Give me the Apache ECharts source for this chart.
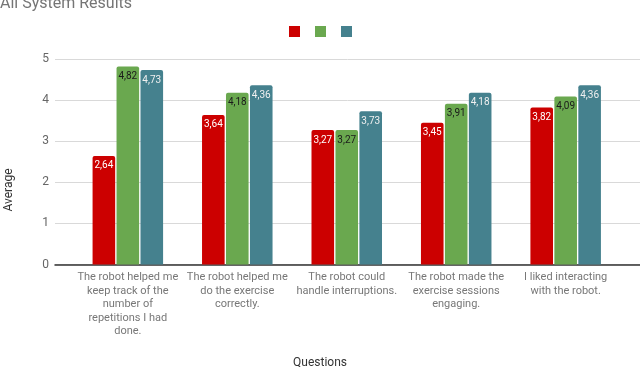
<!DOCTYPE html>
<html>
<head>
<meta charset="utf-8">
<script src="https://cdn.jsdelivr.net/npm/echarts@6/dist/echarts.min.js"></script>
<style>
  html, body { margin: 0; padding: 0; background: #fff; }
  #main { width: 640px; height: 367px; }
</style>
</head>
<body>
<div id="main"></div>
<script>
var questions = [
  'The robot helped me\nkeep track of the\nnumber of\nrepetitions I had\ndone.',
  'The robot helped me\ndo the exercise\ncorrectly.',
  'The robot could\nhandle interruptions.',
  'The robot made the\nexercise sessions\nengaging.',
  'I liked interacting\nwith the robot.'
];
var system1 = [2.64, 3.64, 3.27, 3.45, 3.82];
var system2 = [4.82, 4.18, 3.27, 3.91, 4.09];
var system3 = [4.73, 4.36, 3.73, 4.18, 4.36];
var yTicks = [0, 1, 2, 3, 4, 5];

var colors = ['#cc0000', '#6aa84f', '#45818e'];
var labelColors = ['#ffffff', '#1a1a1a', '#f0f0f0'];

var myChart = echarts.init(document.getElementById('main'));

function makeSeries(name, data, i) {
  return {
    name: name,
    type: 'bar',
    xAxisIndex: 1,
    yAxisIndex: 1,
    barWidth: 22.6,
    barGap: '6%',
    data: data,
    itemStyle: { color: colors[i], borderRadius: [2, 2, 0, 0] },
    label: {
      show: true,
      position: 'insideTop',
      distance: 5,
      fontSize: 10,
      fontFamily: 'Roboto',
      color: labelColors[i],
      formatter: function (p) { return p.value.toFixed(2).replace('.', ','); }
    }
  };
}

var option = {
  animation: false,
  textStyle: { fontFamily: 'Roboto' },
  title: [
    {
      text: 'All System Results',
      left: -5, top: -9,
      textStyle: { fontSize: 16, fontWeight: 'normal', color: '#757575' }
    },
    {
      text: 'Questions',
      left: 'center', top: 352,
      textStyle: { fontSize: 12, fontWeight: 'normal', color: '#333' }
    }
  ],
  legend: {
    left: 289, top: 26,
    padding: 0,
    itemWidth: 11, itemHeight: 11,
    itemGap: 15,
    icon: 'rect',
    formatter: function () { return ''; },
    data: ['S1', 'S2', 'S3']
  },
  graphic: [{
    type: 'text',
    x: 8.5, y: 190,
    rotation: Math.PI / 2,
    style: {
      text: 'Average',
      fontSize: 12, fontFamily: 'Roboto',
      fill: '#333',
      align: 'center', verticalAlign: 'middle'
    }
  }],
  grid: [
    { left: 55, right: 0, top: 59, bottom: 102.5 },
    { left: 73.1, right: 19.6, top: 59, bottom: 102.5 }
  ],
  xAxis: [
    {
      gridIndex: 0, type: 'category', data: [''],
      axisLine: { show: true, lineStyle: { color: '#333', width: 1.5 } },
      axisTick: { show: false }, axisLabel: { show: false }
    },
    {
      gridIndex: 1, type: 'category', data: questions,
      axisLine: { show: false }, axisTick: { show: false },
      axisLabel: { interval: 0, margin: 6, fontSize: 11, lineHeight: 13.5, color: '#777' }
    }
  ],
  yAxis: [
    {
      gridIndex: 0, type: 'value', min: yTicks[0], max: yTicks[yTicks.length - 1], interval: 1,
      axisLine: { show: false }, axisTick: { show: false },
      axisLabel: { margin: 6, fontSize: 12, color: '#666' },
      splitLine: { lineStyle: { color: '#d9d9d9', width: 1 } }
    },
    {
      gridIndex: 1, type: 'value', min: yTicks[0], max: yTicks[yTicks.length - 1], interval: 1,
      show: false, splitLine: { show: false }
    }
  ],
  series: [
    makeSeries('S1', system1, 0),
    makeSeries('S2', system2, 1),
    makeSeries('S3', system3, 2)
  ]
};

myChart.setOption(option);
</script>
</body>
</html>
